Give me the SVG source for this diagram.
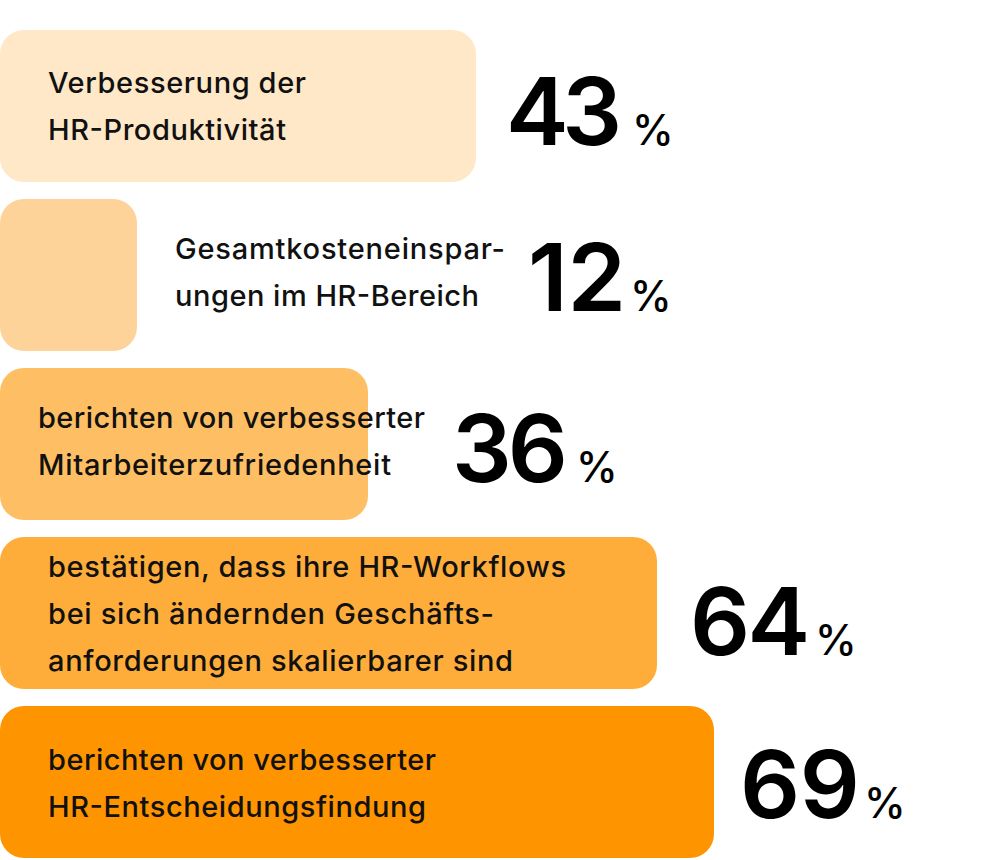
<svg xmlns="http://www.w3.org/2000/svg" width="1000" height="860" viewBox="0 0 1000 860">
<style>
.t{font-family:Inter,"Liberation Sans",sans-serif;font-size:29px;font-weight:500;fill:#111}
.n{font-family:Inter,"Liberation Sans",sans-serif;font-size:94px;font-weight:600;fill:#000;letter-spacing:-4px}
.p{font-family:Inter,"Liberation Sans",sans-serif;font-size:42px;font-weight:500;fill:#000}
</style>
<rect width="1000" height="860" fill="#fff"/>
<g id="bar1"><rect x="0" y="30" width="476" height="152" rx="24" fill="#FEE8C8"/>
<text class="t" x="48" y="93" textLength="258">Verbesserung der</text><text class="t" x="48" y="140" textLength="238">HR-Produktivität</text>
<text class="n" x="506" y="145" textLength="112">43</text><text class="p" x="632" y="145">%</text></g>
<g id="bar2"><rect x="0" y="199" width="137" height="152" rx="24" fill="#FED39A"/>
<text class="t" x="175" y="259" textLength="330">Gesamtkosteneinspar-</text><text class="t" x="175" y="306" textLength="304">ungen im HR-Bereich</text>
<text class="n" x="528" y="311" textLength="94">12</text><text class="p" x="630" y="311">%</text></g>
<g id="bar3"><rect x="0" y="368" width="368" height="152" rx="24" fill="#FEBF64"/>
<text class="t" x="38" y="428" textLength="387">berichten von verbesserter</text><text class="t" x="38" y="475" textLength="353">Mitarbeiterzufriedenheit</text>
<text class="n" x="452" y="482" textLength="112">36</text><text class="p" x="576" y="482">%</text></g>
<g id="bar4"><rect x="0" y="537" width="657" height="152" rx="24" fill="#FEAD3A"/>
<text class="t" x="48" y="577" textLength="518">bestätigen, dass ihre HR-Workflows</text><text class="t" x="48" y="624" textLength="446">bei sich ändernden Geschäfts-</text><text class="t" x="48" y="671" textLength="465">anforderungen skalierbarer sind</text>
<text class="n" x="690" y="655" textLength="116">64</text><text class="p" x="815" y="655">%</text></g>
<g id="bar5"><rect x="0" y="706" width="714" height="152" rx="24" fill="#FE9400"/>
<text class="t" x="48" y="770" textLength="388">berichten von verbesserter</text><text class="t" x="48" y="817" textLength="378">HR-Entscheidungsfindung</text>
<text class="n" x="740" y="818" textLength="116">69</text><text class="p" x="864" y="818">%</text></g>
<g id="connectors"/>
</svg>
